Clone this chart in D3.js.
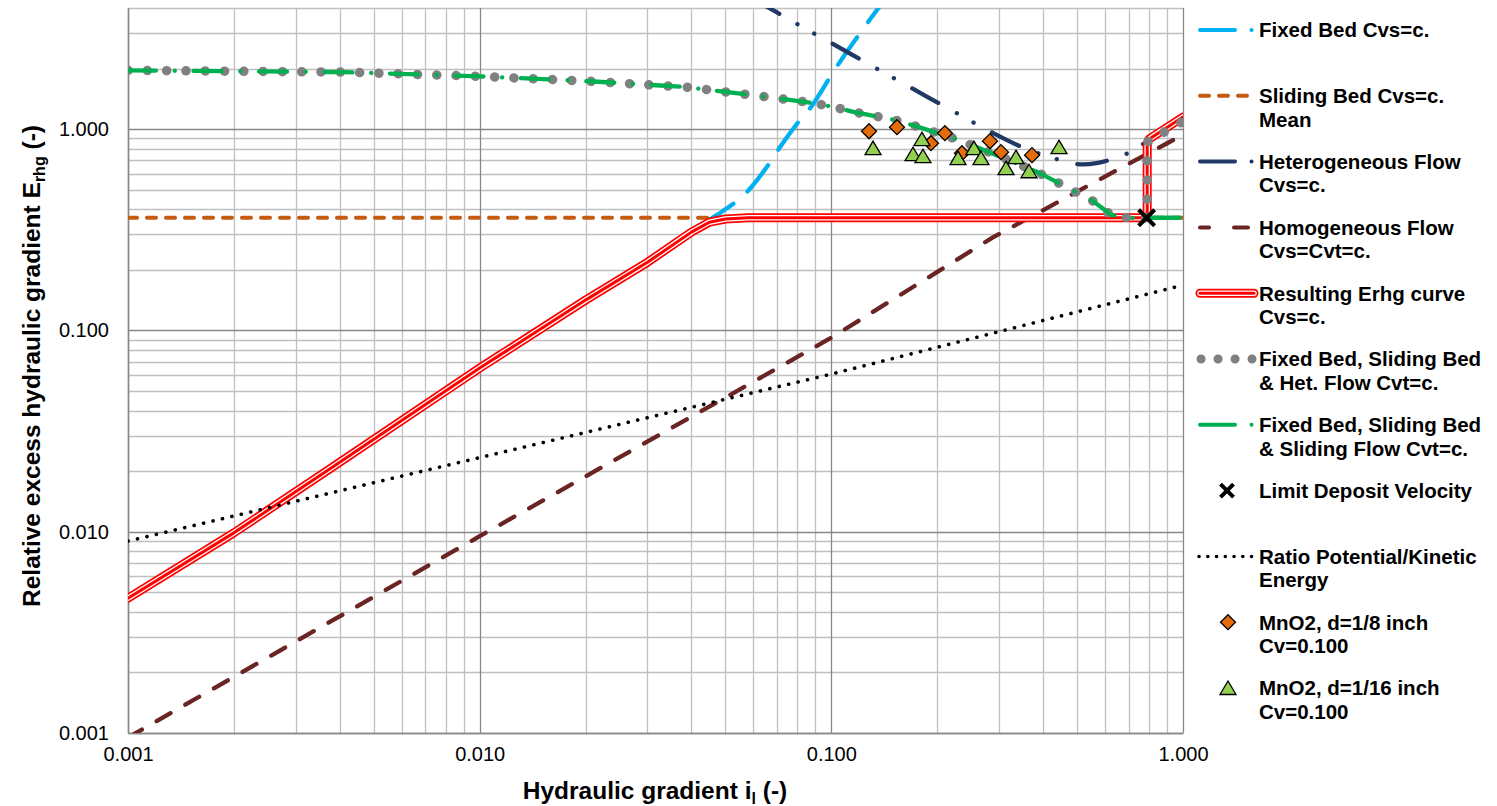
<!DOCTYPE html>
<html>
<head>
<meta charset="utf-8">
<script src="https://cdn.jsdelivr.net/npm/d3@7"></script>
<style>
body { margin: 0; background: #fff; }
text { font-family: "Liberation Sans", Arial, sans-serif; }
</style>
</head>
<body>
<div id="chart"></div>
<script>
// values: [hydraulic gradient il, Erhg]
const xTicks = [0.001, 0.01, 0.1, 1];
const yTicks = [0.001, 0.01, 0.1, 1];

const fixedBed = [[0.044,0.345],[0.0472,0.374],[0.0546,0.447],[0.0591,0.513],[0.0679,0.707],[0.0724,0.842],
  [0.0827,1.151],[0.0879,1.301],[0.1013,1.926],[0.1074,2.245],[0.1228,3.13],[0.1369,4.05],[0.145,4.6]];
const slidingBed = [[0.001,0.363],[1.0,0.363]];
const heterogeneous = [[0.06,4.44],[0.0669,3.98],[0.0746,3.572],[0.0832,3.20],[0.1013,2.645],[0.126,2.135],
  [0.1699,1.593],[0.2119,1.286],[0.2876,0.959],[0.3593,0.796],[0.4032,0.743],[0.5018,0.670],[0.5684,0.678],
  [0.6407,0.718],[0.7175,0.780],[0.8217,0.916]];
const homogeneous = [[0.001,0.00095],[0.01,0.0095],[0.1,0.092],[0.288,0.29],[0.62,0.60],[0.899,0.849],[1.0,0.94]];
const resulting = [[0.001,0.00467],[0.002,0.00987],[0.0037,0.0202],[0.01,0.065],[0.02,0.1415],[0.03,0.218],
  [0.04,0.308],[0.045,0.345],[0.05,0.358],[0.058,0.363],[0.78,0.363],[0.788,0.368],[0.791,0.39],[0.791,0.82],
  [0.794,0.865],[0.80,0.89],[0.81,0.905],[1.0,1.15]];
const cvtCommon = [[0.001,1.96],[0.00414,1.92],[0.01,1.83],[0.0206,1.73],[0.0384,1.62],[0.0669,1.44],
  [0.0885,1.35],[0.1013,1.29],[0.1155,1.219],[0.1527,1.108],[0.174,1.035],[0.228,0.889],[0.2578,0.817],
  [0.337,0.675],[0.384,0.614],[0.433,0.552],[0.488,0.494],[0.55,0.444],[0.59,0.405],[0.62,0.378],
  [0.66,0.367],[0.707,0.362],[0.788,0.363]];
const hetCvtTail = [[0.791,0.45],[0.791,0.80],[0.796,0.87],[0.81,0.91],[0.87,0.952],[0.976,1.067],[1.0,1.09]];
const slidingCvtTail = [[1.0,0.363]];
const limitDeposit = [[0.788,0.363]];
const ratioPotKin = [[0.001,0.00898],[0.1,0.0607],[1.0,0.168]];
const mno2Eighth = [[0.128,0.977],[0.1537,1.023],[0.192,0.852],[0.2104,0.955],[0.2352,0.760],[0.2826,0.872],
  [0.3037,0.769],[0.3721,0.743]];
const mno2Sixteenth = [[0.1314,0.805],[0.1707,0.751],[0.181,0.892],[0.1822,0.734],[0.2292,0.718],[0.2544,0.805],
  [0.2664,0.718],[0.3139,0.640],[0.335,0.726],[0.3648,0.618],[0.444,0.814]];

const legendLabels = [
  ["Fixed Bed Cvs=c."],
  ["Sliding Bed Cvs=c.", "Mean"],
  ["Heterogeneous Flow", "Cvs=c."],
  ["Homogeneous Flow", "Cvs=Cvt=c."],
  ["Resulting Erhg curve", "Cvs=c."],
  ["Fixed Bed, Sliding Bed", "& Het. Flow Cvt=c."],
  ["Fixed Bed, Sliding Bed", "& Sliding Flow Cvt=c."],
  ["Limit Deposit Velocity"],
  ["Ratio Potential/Kinetic", "Energy"],
  ["MnO2, d=1/8 inch", "Cv=0.100"],
  ["MnO2, d=1/16 inch", "Cv=0.100"]
];

const width = 1497, height = 806;
const pL = 128, pR = 1183, pT = 8, pB = 733;

const svg = d3.select("#chart").append("svg")
  .attr("width", width)
  .attr("height", height);

svg.append("rect").attr("width", width).attr("height", height).attr("fill", "#fff");

const x = d3.scaleLog().domain([0.001, 1]).range([pL, pR]);
const y = d3.scaleLog().domain([0.001, 4]).range([pB, pT]);

// grid
const minorX = [], minorY = [];
[0.001, 0.01, 0.1].forEach(function(d) {
  for (let k = 2; k <= 9; k++) minorX.push(d * k);
});
[0.001, 0.01, 0.1].forEach(function(d) {
  for (let k = 2; k <= 9; k++) minorY.push(d * k);
});
[2, 3, 4].forEach(function(k) { minorY.push(k); });

const grid = svg.append("g");
grid.selectAll(".mx").data(minorX).enter().append("line")
  .attr("x1", d => Math.round(x(d)) + 0.5).attr("x2", d => Math.round(x(d)) + 0.5)
  .attr("y1", pT).attr("y2", pB)
  .attr("stroke", "#c0c0c0").attr("stroke-width", 1.3);
grid.selectAll(".my").data(minorY).enter().append("line")
  .attr("y1", d => Math.round(y(d)) + 0.5).attr("y2", d => Math.round(y(d)) + 0.5)
  .attr("x1", pL).attr("x2", pR)
  .attr("stroke", "#c0c0c0").attr("stroke-width", 1.3);
grid.selectAll(".Mx").data(xTicks).enter().append("line")
  .attr("x1", d => Math.round(x(d)) + 0.5).attr("x2", d => Math.round(x(d)) + 0.5)
  .attr("y1", pT).attr("y2", pB)
  .attr("stroke", "#888").attr("stroke-width", 1.3);
grid.selectAll(".My").data(yTicks).enter().append("line")
  .attr("y1", d => Math.round(y(d)) + 0.5).attr("y2", d => Math.round(y(d)) + 0.5)
  .attr("x1", pL).attr("x2", pR)
  .attr("stroke", "#888").attr("stroke-width", 1.3);

// axes
const fmt = d3.format(".3f");
const xAxis = svg.append("g").attr("transform", "translate(0," + pB + ")")
  .call(d3.axisBottom(x).tickValues(xTicks).tickFormat(fmt).tickSize(0).tickPadding(14));
const yAxis = svg.append("g").attr("transform", "translate(" + pL + ",0)")
  .call(d3.axisLeft(y).tickValues(yTicks).tickFormat(fmt).tickSize(0).tickPadding(19));
[xAxis, yAxis].forEach(function(a) {
  a.select(".domain").attr("stroke", "#888").attr("stroke-width", 1.5);
  a.selectAll("text").attr("font-size", 20).attr("fill", "#000")
    .attr("font-family", "'Liberation Sans', Arial, sans-serif");
});

// clip
svg.append("clipPath").attr("id", "clip").append("rect")
  .attr("x", pL).attr("y", pT).attr("width", pR - pL).attr("height", pB - pT);
const plot = svg.append("g").attr("clip-path", "url(#clip)");

const smooth = d3.line().x(d => x(d[0])).y(d => y(d[1])).curve(d3.curveCatmullRom.alpha(0.5));
const straight = d3.line().x(d => x(d[0])).y(d => y(d[1]));

function stroke(sel, color, w, dash) {
  sel.attr("fill", "none").attr("stroke", color).attr("stroke-width", w)
    .attr("stroke-linecap", "round").attr("stroke-linejoin", "round");
  if (dash) sel.attr("stroke-dasharray", dash);
  return sel;
}

const styles = {
  fixed: ["#00B0F0", 4.3, "33,19"],
  sliding: ["#C55A11", 4, "9,10"],
  het: ["#1F3864", 4.3, "30,21,0.1,19,0.1,21"],
  homo: ["#6B2424", 4.3, "16,17"],
  gray: ["#808080", 9.5, "0.1,19.2"],
  green: ["#00B050", 4.3, "28,18.7,0.1,18.7"],
  ratio: ["#000", 3.6, "0.1,9.6"]
};

stroke(plot.append("path").attr("d", smooth(fixedBed)), ...styles.fixed);
stroke(plot.append("path").attr("d", straight(slidingBed)), ...styles.sliding);
stroke(plot.append("path").attr("d", smooth(heterogeneous)), ...styles.het);
stroke(plot.append("path").attr("d", straight(homogeneous)), ...styles.homo);

// resulting curve: triple red line
const resD = straight(resulting);
stroke(plot.append("path").attr("d", resD), "#ff0000", 9);
stroke(plot.append("path").attr("d", resD), "#fff", 5.5);
stroke(plot.append("path").attr("d", resD), "#ff0000", 3);

stroke(plot.append("path").attr("d", straight(cvtCommon.concat(hetCvtTail))), ...styles.gray);
stroke(plot.append("path").attr("d", straight(cvtCommon.concat(slidingCvtTail))), ...styles.green);

// limit deposit velocity cross
function cross(g, cx, cy, s) {
  g.append("path").attr("d", "M" + (cx - s) + "," + (cy - s) + "L" + (cx + s) + "," + (cy + s) +
      "M" + (cx - s) + "," + (cy + s) + "L" + (cx + s) + "," + (cy - s))
    .attr("stroke", "#000").attr("stroke-width", 4).attr("fill", "none");
}
limitDeposit.forEach(d => cross(svg, x(d[0]), y(d[1]), 8));

stroke(plot.append("path").attr("d", straight(ratioPotKin)), ...styles.ratio);

const diamondPath = "M0,-7.5L7.5,0L0,7.5L-7.5,0Z";
const trianglePath = "M0,-7L8,6.5L-8,6.5Z";
svg.append("g").selectAll("path").data(mno2Eighth).enter().append("path")
  .attr("d", diamondPath).attr("transform", d => "translate(" + x(d[0]) + "," + y(d[1]) + ")")
  .attr("fill", "#E46C0A").attr("stroke", "#000").attr("stroke-width", 1.3);
svg.append("g").selectAll("path").data(mno2Sixteenth).enter().append("path")
  .attr("d", trianglePath).attr("transform", d => "translate(" + x(d[0]) + "," + y(d[1]) + ")")
  .attr("fill", "#92D050").attr("stroke", "#000").attr("stroke-width", 1.3);

// axis titles
const yTitle = svg.append("text")
  .attr("transform", "translate(40,366) rotate(-90)")
  .attr("text-anchor", "middle").attr("font-size", 24.5).attr("font-weight", "bold");
yTitle.append("tspan").text("Relative excess hydraulic gradient E");
yTitle.append("tspan").attr("font-size", 16).attr("dy", 5).text("rhg");
yTitle.append("tspan").attr("dy", -5).text(" (-)");

const xTitle = svg.append("text")
  .attr("x", 655).attr("y", 799)
  .attr("text-anchor", "middle").attr("font-size", 24.5).attr("font-weight", "bold");
xTitle.append("tspan").text("Hydraulic gradient i");
xTitle.append("tspan").attr("font-size", 16).attr("dy", 5).text("l");
xTitle.append("tspan").attr("dy", -5).text(" (-)");

// legend
const legend = svg.append("g");
const lx0 = 1200, lx1 = 1256, textX = 1259;
legendLabels.forEach(function(lines, i) {
  const cy = 30 + 65.8 * i;
  const t = legend.append("text").attr("x", textX).attr("y", cy + 7.3)
    .attr("font-size", 20.5).attr("font-weight", "bold").attr("fill", "#000");
  lines.forEach(function(s, j) {
    t.append("tspan").attr("x", textX).attr("dy", j === 0 ? 0 : 23.5).text(s);
  });
  const seg = "M" + lx0 + "," + cy + "L" + lx1 + "," + cy;
  if (i === 0) stroke(legend.append("path").attr("d", seg), "#00B0F0", 4, "35,16.5,0.1,100");
  if (i === 1) stroke(legend.append("path").attr("d", "M1200," + cy + "L1248," + cy), ...styles.sliding);
  if (i === 2) stroke(legend.append("path").attr("d", seg), "#1F3864", 4, "35,16.5,0.1,100");
  if (i === 3) stroke(legend.append("path").attr("d", "M1200," + cy + "L1248," + cy), "#6B2424", 4, "9,25,100");
  if (i === 4) {
    const s2 = "M1200," + cy + "L1254," + cy;
    stroke(legend.append("path").attr("d", s2), "#ff0000", 9);
    stroke(legend.append("path").attr("d", s2), "#fff", 5.5);
    stroke(legend.append("path").attr("d", s2), "#ff0000", 3);
  }
  if (i === 5) stroke(legend.append("path").attr("d", "M1201," + cy + "L1252," + cy), "#808080", 9, "0.1,16.9");
  if (i === 6) stroke(legend.append("path").attr("d", seg), "#00B050", 4, "35,16.5,0.1,100");
  if (i === 7) cross(legend, 1227, cy, 6.5);
  if (i === 8) stroke(legend.append("path").attr("d", "M1199," + cy + "L1252," + cy), "#000", 3.5, "0.1,8.65");
  if (i === 9) legend.append("path").attr("d", diamondPath).attr("transform", "translate(1228," + cy + ")")
    .attr("fill", "#E46C0A").attr("stroke", "#000").attr("stroke-width", 1.3);
  if (i === 10) legend.append("path").attr("d", trianglePath).attr("transform", "translate(1228," + cy + ")")
    .attr("fill", "#92D050").attr("stroke", "#000").attr("stroke-width", 1.3);
});
</script>
</body>
</html>
